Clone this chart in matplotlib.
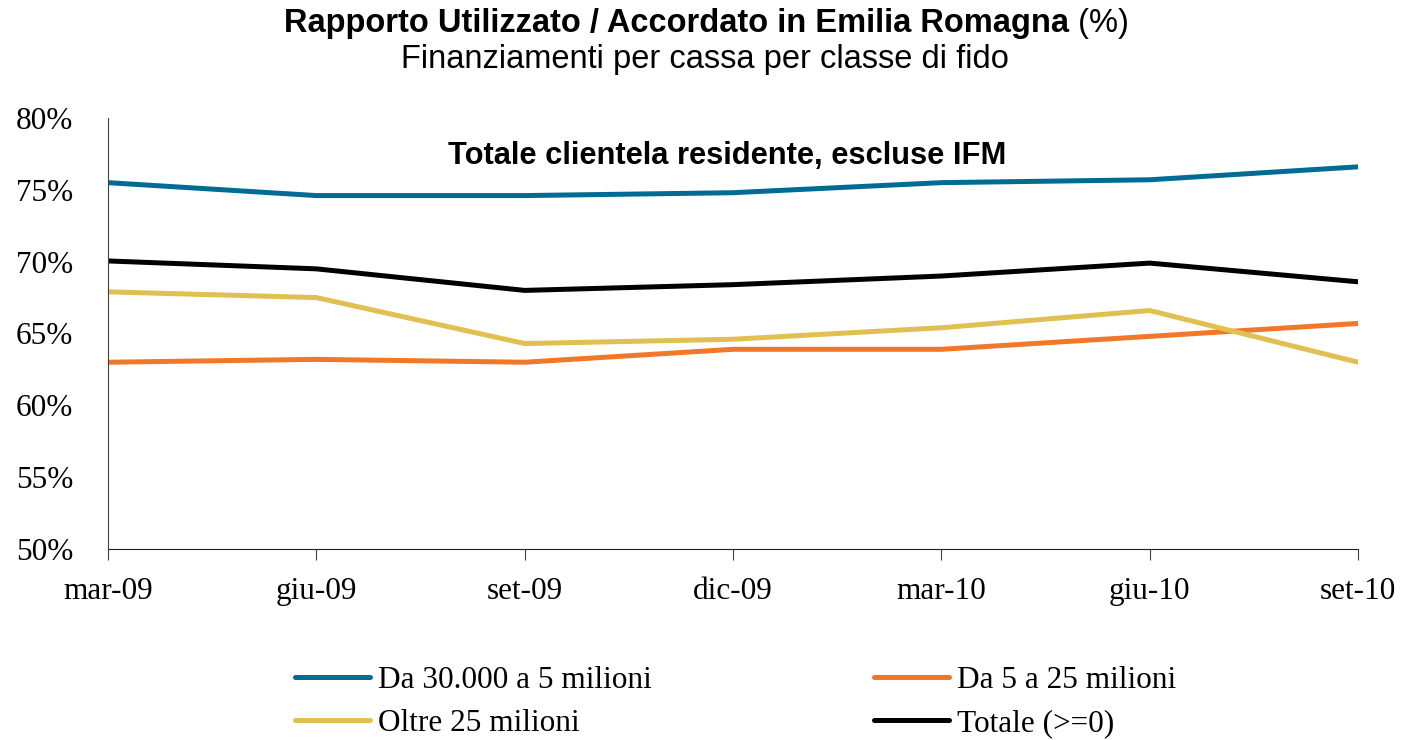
import matplotlib
matplotlib.use('Agg')
import matplotlib.pyplot as plt

periods = ['mar-09', 'giu-09', 'set-09', 'dic-09', 'mar-10', 'giu-10', 'set-10']
da_30000 = [75.5, 74.6, 74.6, 74.8, 75.5, 75.7, 76.6]
da_5_25 = [63.0, 63.2, 63.0, 63.9, 63.9, 64.8, 65.7]
oltre_25 = [67.9, 67.5, 64.3, 64.6, 65.4, 66.6, 63.0]
totale = [70.05, 69.5, 68.0, 68.4, 69.0, 69.9, 68.6]
y_ticks = [50, 55, 60, 65, 70, 75, 80]

serif = 'Liberation Serif'
sans = 'Liberation Sans'
W, H = 1405, 740

fig = plt.figure(figsize=(W / 100, H / 100), dpi=100)
ax = fig.add_axes([108 / W, 1 - 549 / H, 1250 / W, 431 / H])

x = list(range(len(periods)))
lw = 3.6
l1, = ax.plot(x, da_30000, color='#006C94', lw=lw, solid_capstyle='round', label='Da 30.000 a 5 milioni')
l2, = ax.plot(x, da_5_25, color='#F07828', lw=lw, solid_capstyle='round', label='Da 5 a 25 milioni')
l3, = ax.plot(x, oltre_25, color='#DFC050', lw=lw, solid_capstyle='round', label='Oltre 25 milioni')
l4, = ax.plot(x, totale, color='black', lw=lw, solid_capstyle='round', label='Totale (>=0)')

ax.set_xlim(0, len(periods) - 1)
ax.set_ylim(50, 80)
ax.set_xticks(x)
ax.set_xticklabels(periods, fontfamily=serif, fontsize=22.5)
ax.set_yticks(y_ticks)
ax.set_yticklabels(['%d%%' % v for v in y_ticks], fontfamily=serif, fontsize=22.5)
ax.tick_params(axis='y', length=0, pad=25)
ax.tick_params(axis='x', length=8, direction='out', pad=12, color='#404040')
for s in ['top', 'right']:
    ax.spines[s].set_visible(False)
ax.spines['left'].set_color('#404040')
ax.spines['bottom'].set_color('#202020')
ax.spines['bottom'].set_zorder(0)

ax.text(727 / W, 1 - 164 / H, 'Totale clientela residente, escluse IFM', transform=fig.transFigure,
        ha='center', va='baseline', fontfamily=sans, fontweight='bold', fontsize=22.2)

# title: bold part + regular "(%)", centred together
t1 = fig.text(0.5, 1 - 32 / H, 'Rapporto Utilizzato / Accordato in Emilia Romagna', ha='left', va='baseline',
              fontfamily=sans, fontweight='bold', fontsize=23.5)
t2 = fig.text(0.5, 1 - 32 / H, ' (%)', ha='left', va='baseline', fontfamily=sans, fontsize=23.5)
fig.canvas.draw()
r = fig.canvas.get_renderer()
w1 = t1.get_window_extent(r).width
w2 = t2.get_window_extent(r).width
x0 = 706 - (w1 + w2) / 2
t1.set_x(x0 / W)
t2.set_x((x0 + w1) / W)

fig.text(705 / W, 1 - 68 / H, 'Finanziamenti per cassa per classe di fido', ha='center', va='baseline',
         fontfamily=sans, fontsize=23.5)

fig.legend(handles=[l1, l3, l2, l4], loc='center left', bbox_to_anchor=(295 / W, 1 - 702 / H), ncol=2,
           frameon=False, prop={'family': serif, 'size': 22.5}, handlelength=2.4,
           handletextpad=0.26, columnspacing=7.1, labelspacing=0.45, borderpad=0, borderaxespad=0)

fig.savefig('out.png', dpi=100)
